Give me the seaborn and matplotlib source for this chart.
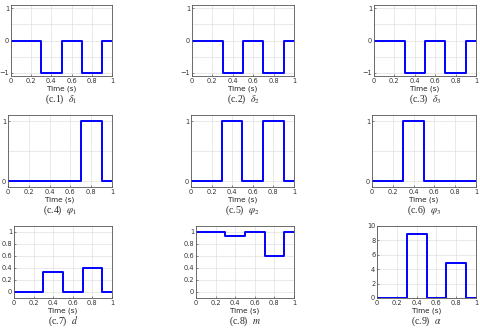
import numpy as np
import pandas as pd
import seaborn as sns
import matplotlib.pyplot as plt

# Step breakpoints (s) and level of each segment
t_edges = [0.0, 0.3, 0.5, 0.7, 0.9, 1.0]

delta1 = [0, -1, 0, -1, 0]
delta2 = [0, -1, 0, -1, 0]
delta3 = [0, -1, 0, -1, 0]
phi1 = [0, 0, 0, 1, 0]
phi2 = [0, 1, 0, 1, 0]
phi3 = [0, 1, 0, 0, 0]
duty = [0, 0.33, 0, 0.4, 0]
mod_m = [1, 0.93, 1, 0.6, 1]
alpha = [0, 8.9, 0, 4.8, 0]

captions = [
    r"(c.1)  $\delta_1$", r"(c.2)  $\delta_2$", r"(c.3)  $\delta_3$",
    r"(c.4)  $\varphi_1$", r"(c.5)  $\varphi_2$", r"(c.6)  $\varphi_3$",
    r"(c.7)  $d$", r"(c.8)  $m$", r"(c.9)  $\alpha$",
]
series = [delta1, delta2, delta3, phi1, phi2, phi3, duty, mod_m, alpha]

sns.set_theme(style="ticks")
plt.rcParams["font.family"] = ["DejaVu Sans"]
plt.rcParams["mathtext.fontset"] = "stix"

fig = plt.figure(figsize=(4.8, 3.33), dpi=100)

# axes boxes in pixels: left, top, right, bottom
boxes = [
    (11, 5, 112, 76), (192, 5, 294, 76), (374, 5, 476, 76),
    (8, 115, 112, 187), (191, 115, 294, 187), (372, 115, 476, 187),
    (14, 226, 112, 298), (196, 226, 294, 298), (377, 226, 476, 298),
]

for i, (vals, cap) in enumerate(zip(series, captions)):
    r, c = divmod(i, 3)
    x0, y0, x1, y1 = boxes[i]
    ax = fig.add_axes([x0 / 480, (333 - y1) / 333,
                       (x1 - x0) / 480, (y1 - y0) / 333])
    df = pd.DataFrame({"t": t_edges, "v": list(vals) + [vals[-1]]})
    sns.lineplot(data=df, x="t", y="v", ax=ax, color="#0000ff", lw=1.4,
                 drawstyle="steps-post", estimator=None)
    ax.set_xlim(0, 1)
    ax.set_xticks(np.arange(0, 1.01, 0.2))
    ax.set_xticklabels(["0", "0.2", "0.4", "0.6", "0.8", "1"])
    if r == 0:
        ax.set_ylim(-1.1, 1.1)
        ax.set_yticks([-1, 0, 1])
        ax.set_yticks([-0.5, 0.5], minor=True)
    elif r == 1:
        ax.set_ylim(-0.1, 1.1)
        ax.set_yticks([0, 1])
        ax.set_yticks([0.5], minor=True)
    elif c < 2:
        ax.set_ylim(-0.1, 1.1)
        ax.set_yticks(np.arange(0, 1.01, 0.2))
        ax.set_yticklabels(["0", "0.2", "0.4", "0.6", "0.8", "1"])
    else:
        ax.set_ylim(0, 10)
        ax.set_yticks(np.arange(0, 10.1, 2))
    ax.grid(True, which="both", axis="y", color="#e0e0e0", lw=0.5)
    ax.grid(True, which="major", axis="x", color="#e0e0e0", lw=0.5)
    ax.tick_params(which="both", direction="in", length=1.5, width=0.4,
                   labelsize=4.8, pad=1.2, colors="#333333")
    ax.tick_params(which="minor", length=0)
    for s in ax.spines.values():
        s.set_color("#555555")
        s.set_linewidth(0.6)
    ax.set_xlabel("Time (s)", fontsize=5.2, labelpad=1, color="#222222")
    ax.set_ylabel("")
    h = y1 - y0
    ax.text(0.5, -23 / h, cap, transform=ax.transAxes, ha="center",
            va="center", fontsize=7, family="Liberation Serif")

fig.savefig("out.png", dpi=100)
